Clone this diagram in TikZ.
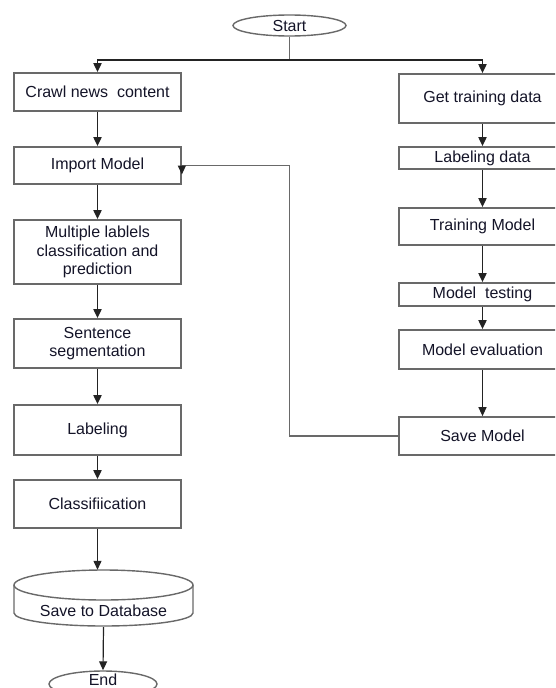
\documentclass[tikz,border=0pt]{standalone}
\usepackage{fontspec}
\setmainfont{Liberation Sans}
\usetikzlibrary{arrows.meta,shapes.geometric}
\definecolor{boxline}{RGB}{105,105,105}
\definecolor{conn}{RGB}{35,35,35}
\definecolor{txt}{RGB}{20,20,40}
\begin{document}
\begin{tikzpicture}[x=1pt,y=-1pt,
  every node/.style={font=\fontsize{16}{18.4}\selectfont, text=txt},
  stepbox/.style={draw=boxline, line width=1.7pt, rectangle, inner sep=0pt, minimum width=167pt, align=center},
  term/.style={draw=boxline, line width=1.4pt, ellipse, inner sep=0pt},
  arr/.style={draw=conn, line width=1.8pt, -{Triangle[width=8pt,length=9pt]}},
  plain/.style={draw=boxline, line width=1.7pt},
  fbline/.style={draw=boxline, line width=1.4pt}]
\useasboundingbox (0,0) rectangle (555,688);
\clip (0,0) rectangle (555,688);
\fill[white] (0,0) rectangle (555,688);

% terminals
\node[term, minimum width=113pt, minimum height=21pt] (start) at (289.5,25.5) {Start};
\node[term, minimum width=108pt, minimum height=26pt] (end) at (103,684) {};
\node[inner sep=0pt] (endtext) at (103,680) {End};

% left column
\node[stepbox, minimum height=38pt] (crawl) at (97.5,92) {Crawl news\ \ content};
\node[stepbox, minimum height=37pt] (import) at (97.5,165.5) {Import Model};
\node[stepbox, minimum height=64pt] (multi) at (97.5,252) {Multiple lablels\\classification and\\prediction};
\node[stepbox, minimum height=49pt] (sent) at (97.5,343.5) {Sentence\\segmentation};
\node[stepbox, minimum height=50pt] (label) at (97.5,430) {Labeling};
\node[stepbox, minimum height=48pt] (cls) at (97.5,504) {Classifiication};

% database cylinder
\node[minimum width=179pt, minimum height=57pt, inner sep=0pt] (db) at (103.5,598.5) {};
\draw[boxline, line width=1.4pt, fill=white]
  (14,613) -- (14,585) arc[start angle=180, end angle=0, x radius=89.5pt, y radius=15pt]
  -- (193,613) arc[start angle=0, end angle=-180, x radius=89.5pt, y radius=13pt] -- cycle;
\draw[boxline, line width=1.4pt] (14,585) arc[start angle=180, end angle=360, x radius=89.5pt, y radius=15pt];
\node[inner sep=0pt] (dbtext) at (103.5,611) {Save to Database};

% right column
\node[stepbox, minimum height=49pt] (gtd) at (482.5,98.5) {Get training data};
\node[stepbox, minimum height=22pt] (ldata) at (482.5,158) {Labeling data};
\node[stepbox, minimum height=37pt] (train) at (482.5,226.5) {Training Model};
\node[stepbox, minimum height=23pt] (test) at (482.5,294.5) {Model\ \ testing};
\node[stepbox, minimum height=39pt] (eval) at (482.5,349.5) {Model evaluation};
\node[stepbox, minimum height=38pt] (save) at (482.5,436) {Save Model};

% branch from start
\coordinate (br) at (289.5,60);
\draw[plain] (start.south) -- (br);
\draw[arr] (br) -| (crawl.north);
\draw[arr] (br) -| (gtd.north);

% left flow
\draw[arr] (crawl) -- (import);
\draw[arr] (import) -- (multi);
\draw[arr] (multi) -- (sent);
\draw[arr] (sent) -- (label);
\draw[arr] (label) -- (cls);
\draw[arr, line width=1.2pt] (cls.south) -- (cls.south |- db.north);
\draw[arr, line width=1.2pt] (db.south) -- (end.north);

% right flow
\draw[arr] (gtd) -- (ldata);
\draw[arr] (ldata) -- (train);
\draw[arr] (train) -- (test);
\draw[arr] (test) -- (eval);
\draw[arr, line width=1.2pt] (eval) -- (save);

% feedback
\coordinate (fbtop) at (289.5,165.5);
\draw[fbline] (save.west) -| (fbtop) -- (import.east);
\draw[arr, line width=1.2pt] (import.east) -- ++(0,9);
\end{tikzpicture}
\end{document}
